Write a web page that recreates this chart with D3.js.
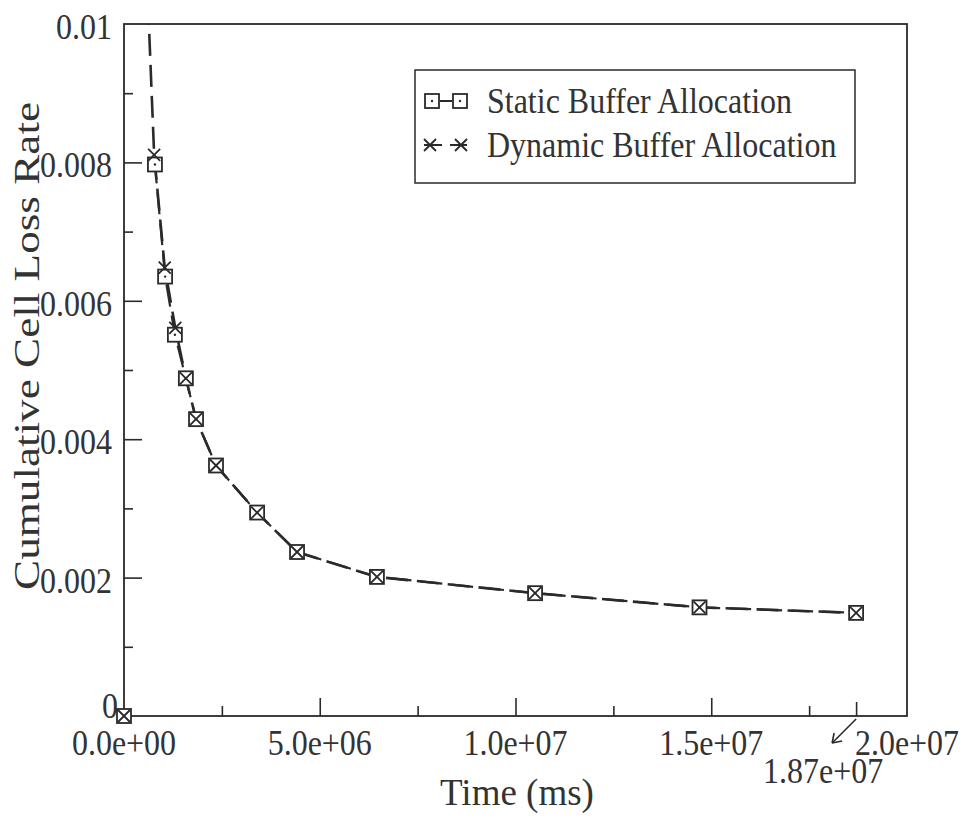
<!DOCTYPE html>
<html><head><meta charset="utf-8">
<script src="https://cdn.jsdelivr.net/npm/d3@7"></script>
<style>
body{margin:0;background:#fff}
text{font-family:"Liberation Serif","Times New Roman",serif;fill:#333}
</style>
</head><body><svg id="c" width="967" height="818"></svg>
<script>
// ---- data ----
const timeStatic = [0.79e6, 1.05e6, 1.30e6, 1.58e6, 1.84e6, 2.35e6, 3.40e6, 4.42e6, 6.46e6, 10.5e6, 14.7e6, 18.7e6];
const rateStatic = [0.00797, 0.00635, 0.00551, 0.00488, 0.00429, 0.00362, 0.00294, 0.00237, 0.00201, 0.001775, 0.00157, 0.00149];
const timeDynamic = [0.55e6, 0.77e6, 1.04e6, 1.31e6, 1.58e6, 1.84e6, 2.35e6, 3.40e6, 4.42e6, 6.46e6, 10.5e6, 14.7e6, 18.7e6];
const rateDynamic = [0.0112, 0.00811, 0.00648, 0.00561, 0.00488, 0.00429, 0.00362, 0.00294, 0.00237, 0.00201, 0.001775, 0.00157, 0.00149];
const originTime = [0];
const originRate = [0];
const xTickValues = [0, 5e6, 1e7, 1.5e7, 2e7];
const xTickLabels = ["0.0e+00", "5.0e+06", "1.0e+07", "1.5e+07", "2.0e+07"];
const xMinorTicks = [2.5e6, 7.5e6, 1.25e7, 1.75e7];
const yTickValues = [0, 0.002, 0.004, 0.006, 0.008, 0.01];
const yTickLabels = ["0", "0.002", "0.004", "0.006", "0.008", "0.01"];
const yMinorTicks = [0.001, 0.003, 0.005, 0.007, 0.009];
const markTime = 1.87e7;
const markLabel = "1.87e+07";
const seriesNames = ["Static Buffer Allocation", "Dynamic Buffer Allocation"];
const xTitle = "Time (ms)";
const yTitle = "Cumulative Cell Loss Rate";

// ---- layout ----
const L = 124, R = 907, T = 24, B = 716;
const svg = d3.select("#c");
const x = d3.scaleLinear().domain([0, 2e7]).range([L, R]);
const y = d3.scaleLinear().domain([0, 0.01]).range([B, T]);
const ink = "#2a2a2a";
const SY = 1.1; // vertical stretch of the scanned text

function label(txt, px, py, size, anchor, sy) {
  const g = svg.append("g").attr("transform", `translate(${px},${py}) scale(1,${sy || SY})`);
  g.append("text").attr("text-anchor", anchor || "middle").attr("dominant-baseline", "central")
    .attr("font-size", size).text(txt);
  return g;
}

svg.append("defs").append("clipPath").attr("id", "plot")
  .append("rect").attr("x", L).attr("y", T).attr("width", R - L).attr("height", B - T);

// frame
svg.append("rect").attr("x", L).attr("y", T).attr("width", R - L).attr("height", B - T)
  .attr("fill", "none").attr("stroke", ink).attr("stroke-width", 1.8);

// ticks (inward)
const xAxis = svg.append("g").attr("transform", `translate(0,${B})`)
  .call(d3.axisTop(x).tickValues(xTickValues.slice(1, -1)).tickSize(18).tickFormat(""));
const xMinor = svg.append("g").attr("transform", `translate(0,${B})`)
  .call(d3.axisTop(x).tickValues(xMinorTicks).tickSize(10).tickFormat(""));
const xMark = svg.append("g").attr("transform", `translate(0,${B})`)
  .call(d3.axisTop(x).tickValues([markTime]).tickSize(14).tickFormat(""));
const yAxis = svg.append("g").attr("transform", `translate(${L},0)`)
  .call(d3.axisRight(y).tickValues(yTickValues.slice(1, -1)).tickSize(18).tickFormat(""));
const yMinor = svg.append("g").attr("transform", `translate(${L},0)`)
  .call(d3.axisRight(y).tickValues(yMinorTicks).tickSize(9).tickFormat(""));
[xAxis, xMinor, xMark, yAxis, yMinor].forEach(g => {
  g.select(".domain").remove();
  g.selectAll("line").attr("stroke", ink).attr("stroke-width", 1.6);
});

// tick labels
xTickValues.forEach((v, i) => label(xTickLabels[i], x(v), 743, 32));
yTickValues.forEach((v, i) => label(yTickLabels[i], v === 0 ? 118 : 112, v === 0 ? y(v) - 10 : y(v) + 3, 32, "end"));

// 1.87e+07 annotation
label(markLabel, x(markTime) - 33, 771, 32);
const ax1 = x(markTime), ay1 = B + 3, ax2 = x(markTime) - 24, ay2 = B + 27;
svg.append("line").attr("x1", ax1).attr("y1", ay1).attr("x2", ax2).attr("y2", ay2)
  .attr("stroke", ink).attr("stroke-width", 1.6);
svg.append("path").attr("d", `M${ax2},${ay2} l10,-2 M${ax2},${ay2} l2,-10`)
  .attr("stroke", ink).attr("stroke-width", 1.6).attr("fill", "none");

// axis titles
svg.append("text").attr("x", 517).attr("y", 805).attr("text-anchor", "middle")
  .attr("font-size", 37).text(xTitle);
svg.append("g").attr("transform", `translate(39,346) rotate(-90)`)
  .append("text").attr("text-anchor", "middle")
  .attr("font-size", 35).attr("textLength", 488).attr("lengthAdjust", "spacingAndGlyphs").text(yTitle);

// series
const staticPts = timeStatic.map((t, i) => [t, rateStatic[i]]);
const dynPts = timeDynamic.map((t, i) => [t, rateDynamic[i]]);
const line = d3.line().x(d => x(d[0])).y(d => y(d[1]));
const plot = svg.append("g").attr("clip-path", "url(#plot)");
plot.append("path").attr("d", line(dynPts)).attr("fill", "none").attr("stroke", ink)
  .attr("stroke-width", 2.6).attr("stroke-dasharray", "22,9");
// align static dash phase with the dynamic line
const tmp = plot.append("path").attr("d", line([dynPts[0], dynPts[1]]));
const phase = tmp.node().getTotalLength();
tmp.remove();
plot.append("path").attr("d", line(staticPts)).attr("fill", "none").attr("stroke", ink)
  .attr("stroke-width", 2.2).attr("stroke-dasharray", "22,9").attr("stroke-dashoffset", -phase);

function square(g, cx, cy) {
  g.append("rect").attr("x", cx - 7).attr("y", cy - 7).attr("width", 14).attr("height", 14)
    .attr("fill", "#fff").attr("stroke", ink).attr("stroke-width", 1.8);
  g.append("circle").attr("cx", cx).attr("cy", cy).attr("r", 1.2).attr("fill", ink);
}
function cross(g, cx, cy) {
  g.append("path").attr("d", `M${cx - 6},${cy - 6}L${cx + 6},${cy + 6}M${cx - 6},${cy + 6}L${cx + 6},${cy - 6}`)
    .attr("stroke", ink).attr("stroke-width", 1.8);
}
const marks = svg.append("g");
const allStatic = staticPts.concat(originTime.map((t, i) => [t, originRate[i]]));
const allDyn = dynPts.concat(originTime.map((t, i) => [t, originRate[i]]));
allStatic.filter(d => d[1] <= 0.01).forEach(d => square(marks, x(d[0]), y(d[1])));
allDyn.filter(d => d[1] <= 0.01).forEach(d => cross(marks, x(d[0]), y(d[1])));

// legend
svg.append("rect").attr("x", 415).attr("y", 70).attr("width", 440).attr("height", 113)
  .attr("fill", "#fff").attr("stroke", ink).attr("stroke-width", 1.5);
const lg = svg.append("g");
lg.append("line").attr("x1", 440).attr("x2", 452).attr("y1", 101).attr("y2", 101).attr("stroke", ink).attr("stroke-width", 2);
square(lg, 432, 101); square(lg, 460, 101);
lg.append("line").attr("x1", 424).attr("x2", 442).attr("y1", 145).attr("y2", 145).attr("stroke", ink).attr("stroke-width", 2);
lg.append("line").attr("x1", 450).attr("x2", 467).attr("y1", 145).attr("y2", 145).attr("stroke", ink).attr("stroke-width", 2);
cross(lg, 430, 145); cross(lg, 461, 145);
seriesNames.forEach((n, i) => label(n, 487, 101 + i * 44, 32, "start"));
</script></body></html>
